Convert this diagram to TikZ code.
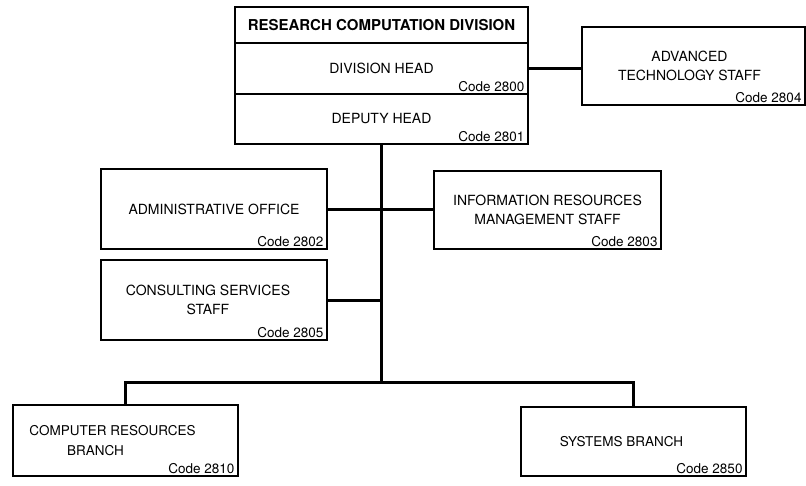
\documentclass[tikz,border=0pt]{standalone}
\usepackage{fontspec}
\setmainfont{TeX Gyre Heros}
\usetikzlibrary{positioning}
\tikzset{
  orgbox/.style={draw, line width=1.4pt, inner sep=0pt, align=center, font=\fontsize{14}{19.5}\selectfont},
  codelbl/.style={anchor=south east, inner xsep=4pt, inner ysep=3pt, font=\fontsize{13.5}{15}\selectfont},
  link/.style={line width=3pt}
}

\begin{document}
\begin{tikzpicture}[x=1pt, y=-1pt]
    \useasboundingbox (0,0) rectangle (806,485);

    % Division block
    \node[orgbox, minimum width=293, minimum height=36, font=\fontsize{15}{17}\selectfont\bfseries] (title) at (381.5,25) {RESEARCH COMPUTATION DIVISION};
    \node[orgbox, minimum width=293, minimum height=51] (head) at (381.5,68.5) {DIVISION HEAD};
    \node[codelbl] (headcode) at (head.south east) {Code 2800};
    \node[orgbox, minimum width=293, minimum height=50] (deputy) at (381.5,119) {DEPUTY HEAD};
    \node[codelbl] (deputycode) at (deputy.south east) {Code 2801};

    % Staff offices
    \node[orgbox, minimum width=223, minimum height=78] (adv) at (693.5,66) {ADVANCED\hspace*{8pt}\\TECHNOLOGY STAFF\hspace*{8pt}};
    \node[codelbl] (advcode) at (adv.south east) {Code 2804};
    \node[orgbox, minimum width=226, minimum height=80] (admin) at (214,209) {ADMINISTRATIVE OFFICE};
    \node[codelbl] (admincode) at (admin.south east) {Code 2802};
    \node[orgbox, minimum width=227, minimum height=78] (irm) at (547.5,210) {INFORMATION RESOURCES\\MANAGEMENT STAFF};
    \node[codelbl] (irmcode) at (irm.south east) {Code 2803};
    \node[orgbox, minimum width=226, minimum height=80] (consult) at (214,300) {CONSULTING SERVICES\hspace*{12pt}\\STAFF\hspace*{12pt}};
    \node[codelbl] (consultcode) at (consult.south east) {Code 2805};

    % Branches
    \node[orgbox, minimum width=225, minimum height=71, font=\fontsize{13.5}{20}\selectfont] (comp) at (125.5,440.5) {COMPUTER RESOURCES\hspace*{26pt}\\BRANCH\hspace*{60pt}};
    \node[codelbl] (compcode) at (comp.south east) {Code 2810};
    \node[orgbox, minimum width=225, minimum height=69, font=\fontsize{13.5}{20}\selectfont] (sys) at (633.5,441.5) {SYSTEMS BRANCH\hspace*{24pt}};
    \node[codelbl] (syscode) at (sys.south east) {Code 2850};

    % Lines
    \coordinate (bus) at (381.5,382);
    \draw[link] (head.east) -- (head.east -| adv.west);
    \draw[link] (deputy.south) -- (bus);
    \draw[link] (admin.east) -- (admin.east -| irm.west);
    \draw[link] (consult.east) -- (consult.east -| bus);
    \draw[link] (comp.north) |- (bus) -| (sys.north);
\end{tikzpicture}
\end{document}
